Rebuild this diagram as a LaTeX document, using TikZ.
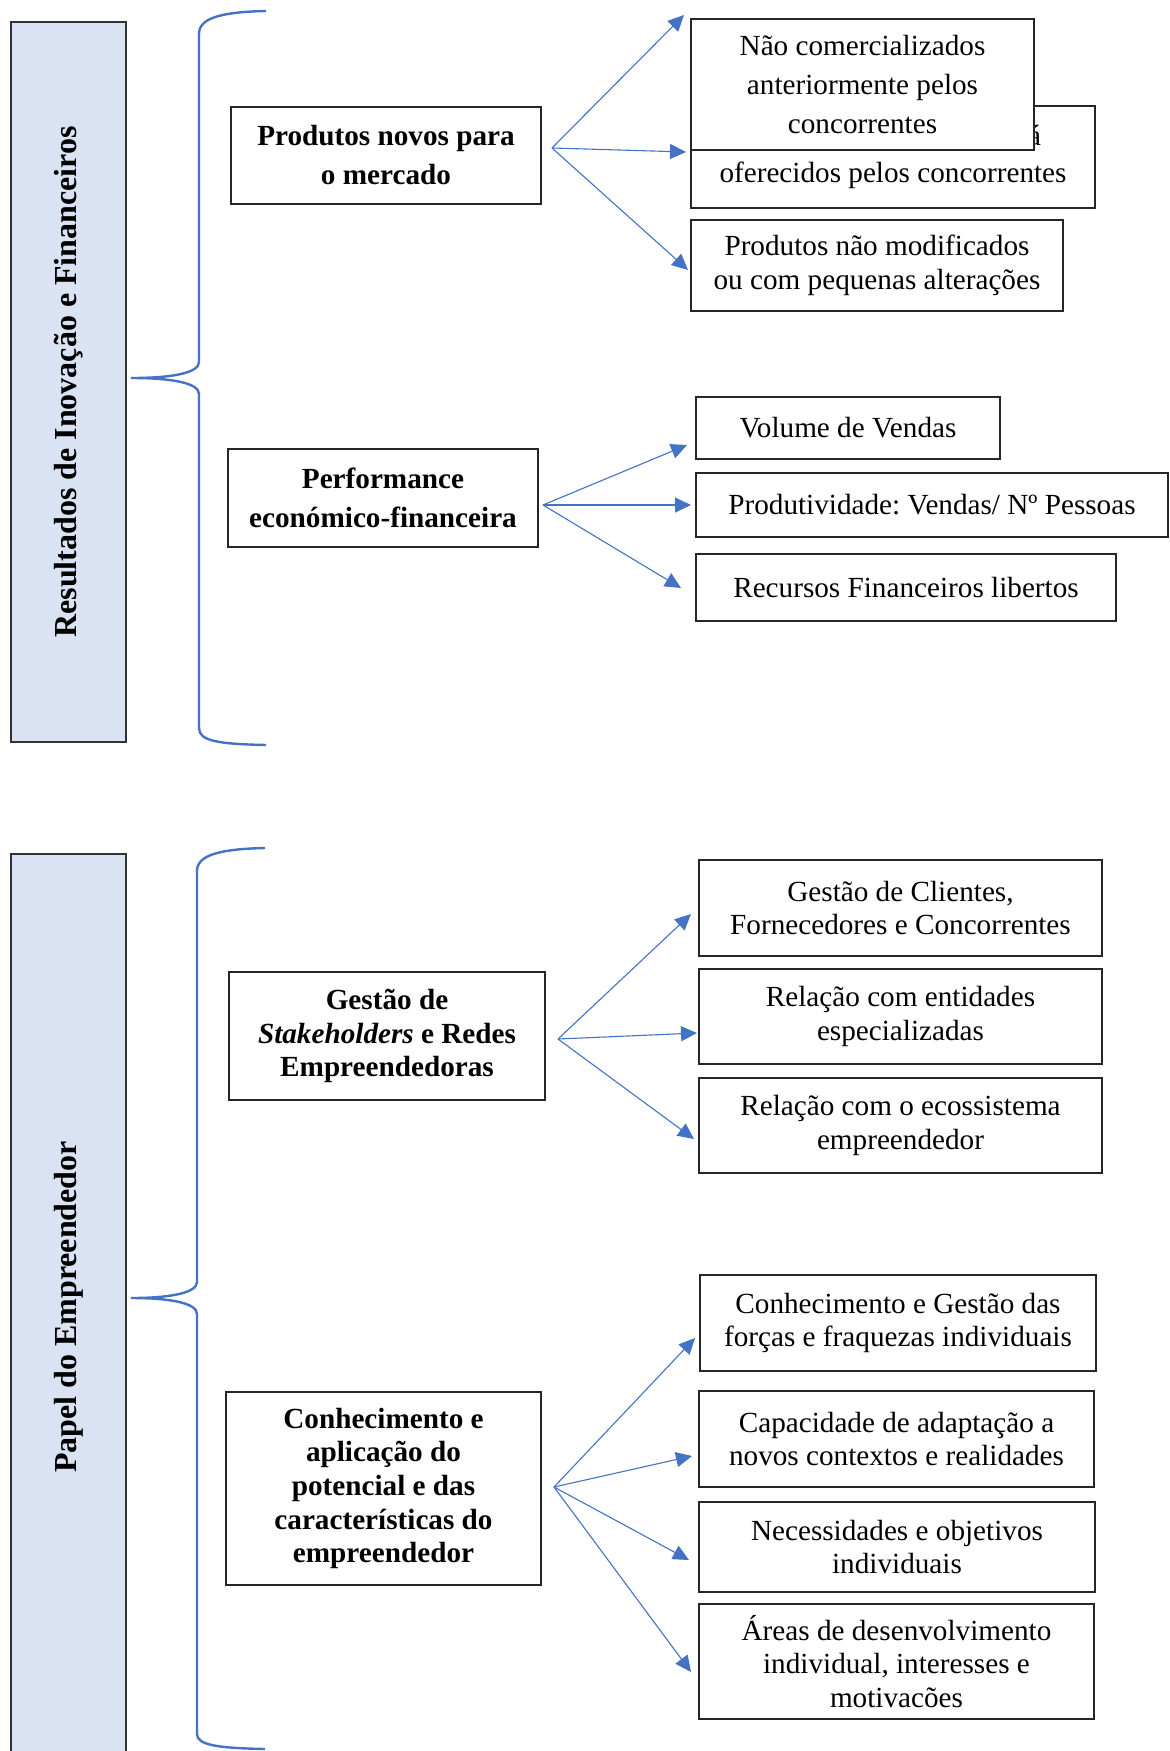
\documentclass[tikz,border=0pt]{standalone}
\usepackage{fontspec}
\setmainfont{Liberation Serif}
\frenchspacing
\usetikzlibrary{arrows.meta}
\definecolor{linkblue}{HTML}{4472C4}
\definecolor{bannerfill}{HTML}{DAE3F3}
\newcommand\mkbox[8]{%
  \pgfmathsetmacro\mbcx{(#2+#4)/2}\pgfmathsetmacro\mbcy{(#3+#5)/2}%
  \pgfmathsetmacro\mbww{(#4-#2)/2}\pgfmathsetmacro\mbhh{(#5-#3)/2}%
  \node[font=\fontsize{14.6}{#7}\selectfont, #6, minimum width=\mbww pt, minimum height=\mbhh pt]
        (#1) at (\mbcx,\mbcy) {#8};}
\tikzset{
  itembox/.style={draw=black!85, line width=0.6pt, fill=white, inner sep=0pt, align=center},
  keybox/.style={itembox, execute at begin node=\bfseries},
  banner/.style={draw=black!80, line width=0.6pt, fill=bannerfill, rotate=90, inner sep=0pt,
                 font=\fontsize{16}{19}\selectfont\bfseries},
  brace/.style={draw=linkblue, line width=1.2pt},
  arr/.style={draw=linkblue, line width=0.55pt, -{Triangle[length=8pt,width=7.5pt]}}
}
\begin{document}
\begin{tikzpicture}[x=0.5pt,y=-0.5pt]
\clip (0,0) rectangle (1170,1751);
\fill[white] (0,0) rectangle (1170,1751);

% banners
\node[banner, minimum width=360pt, minimum height=57.5pt] (b1) at (68.5,382) {Resultados de Inovação e Financeiros};
\node[banner, minimum width=453pt, minimum height=57.5pt] (b2) at (68.5,1307) {Papel do Empreendedor};

% braces
\coordinate (br1top) at (266,11);
\coordinate (br1tip) at (131,378);
\coordinate (br1bot) at (266,745);
\draw[brace] (br1top) .. controls (218,12) and (199,19) .. (199,34) -- (199,362)
  .. controls (199,373) and (172,378) .. (br1tip)
  .. controls (172,378) and (199,383) .. (199,394) -- (199,728)
  .. controls (199,741) and (218,744) .. (br1bot);
\coordinate (br2top) at (265,848);
\coordinate (br2tip) at (131,1298);
\coordinate (br2bot) at (265,1749);
\draw[brace] (br2top) .. controls (217,849) and (197,856) .. (197,871) -- (197,1282)
  .. controls (197,1293) and (170,1298) .. (br2tip)
  .. controls (170,1298) and (197,1303) .. (197,1314) -- (197,1734)
  .. controls (197,1745) and (217,1748) .. (br2bot);

% top section
\mkbox{pn}{231}{107}{541}{204}{keybox}{19.5}{Produtos novos para\\o mercado}
\mkbox{pb}{691}{106}{1095}{208}{itembox}{18.5}{\phantom{Produtos melhorados e j}á\\oferecidos pelos concorrentes}
\mkbox{pa}{691}{19}{1034}{150}{itembox}{19.5}{Não comercializados\\anteriormente pelos\\concorrentes}
\mkbox{pc}{691}{220}{1063}{311}{itembox}{17.3}{Produtos não modificados\\ou com pequenas alterações}

\mkbox{pf}{228}{449}{538}{547}{keybox}{19.5}{Performance\\económico-financeira}
\mkbox{vv}{696}{397}{1000}{459}{itembox}{17}{Volume de Vendas}
\mkbox{vp}{696}{473}{1168}{537}{itembox}{17}{Produtividade: Vendas/ Nº Pessoas}
\mkbox{vr}{696}{554}{1116}{621}{itembox}{17}{Recursos Financeiros libertos}

% bottom section
\mkbox{gs}{229}{972}{545}{1100}{keybox}{16.8}{Gestão de\\\textit{Stakeholders} e Redes\\Empreendedoras}
\mkbox{g1}{699}{860}{1102}{956}{itembox}{16.8}{Gestão de Clientes,\\Fornecedores e Concorrentes}
\mkbox{g2}{699}{969}{1102}{1064}{itembox}{16.8}{Relação com entidades\\especializadas}
\mkbox{g3}{699}{1078}{1102}{1173}{itembox}{16.8}{Relação com o ecossistema\\empreendedor}

\mkbox{ca}{226}{1392}{541}{1585}{keybox}{16.8}{Conhecimento e\\aplicação do\\potencial e das\\características do\\empreendedor}
\mkbox{k1}{700}{1275}{1096}{1371}{itembox}{16.8}{Conhecimento e Gestão das\\forças e fraquezas individuais}
\mkbox{k2}{699}{1391}{1094}{1487}{itembox}{16.8}{Capacidade de adaptação a\\novos contextos e realidades}
\mkbox{k3}{699}{1502}{1095}{1592}{itembox}{16.8}{Necessidades e objetivos\\individuais}
\mkbox{k4}{699}{1604}{1094}{1719}{itembox}{16.8}{Áreas de desenvolvimento\\individual, interesses e\\motivacões}

% arrow anchors
\coordinate (o1) at (552,148);
\coordinate (t1a) at (684,15);
\coordinate (t1b) at (686,152);
\coordinate (t1c) at (688,270);
\coordinate (o2) at (543,505);
\coordinate (t2a) at (687,445);
\coordinate (t2b) at (691,505);
\coordinate (t2c) at (681,588);
\coordinate (o3) at (558,1039);
\coordinate (t3a) at (691,914);
\coordinate (t3b) at (697,1033);
\coordinate (t3c) at (694,1139);
\coordinate (o4) at (554,1487);
\coordinate (t4a) at (695,1338);
\coordinate (t4b) at (692,1456);
\coordinate (t4c) at (689,1560);
\coordinate (t4d) at (691,1672);

\foreach \t in {t1a,t1b,t1c} \draw[arr] (o1) -- (\t);
\foreach \t in {t2a,t2b,t2c} \draw[arr] (o2) -- (\t);
\foreach \t in {t3a,t3b,t3c} \draw[arr] (o3) -- (\t);
\foreach \t in {t4a,t4b,t4c,t4d} \draw[arr] (o4) -- (\t);
\end{tikzpicture}
\end{document}
